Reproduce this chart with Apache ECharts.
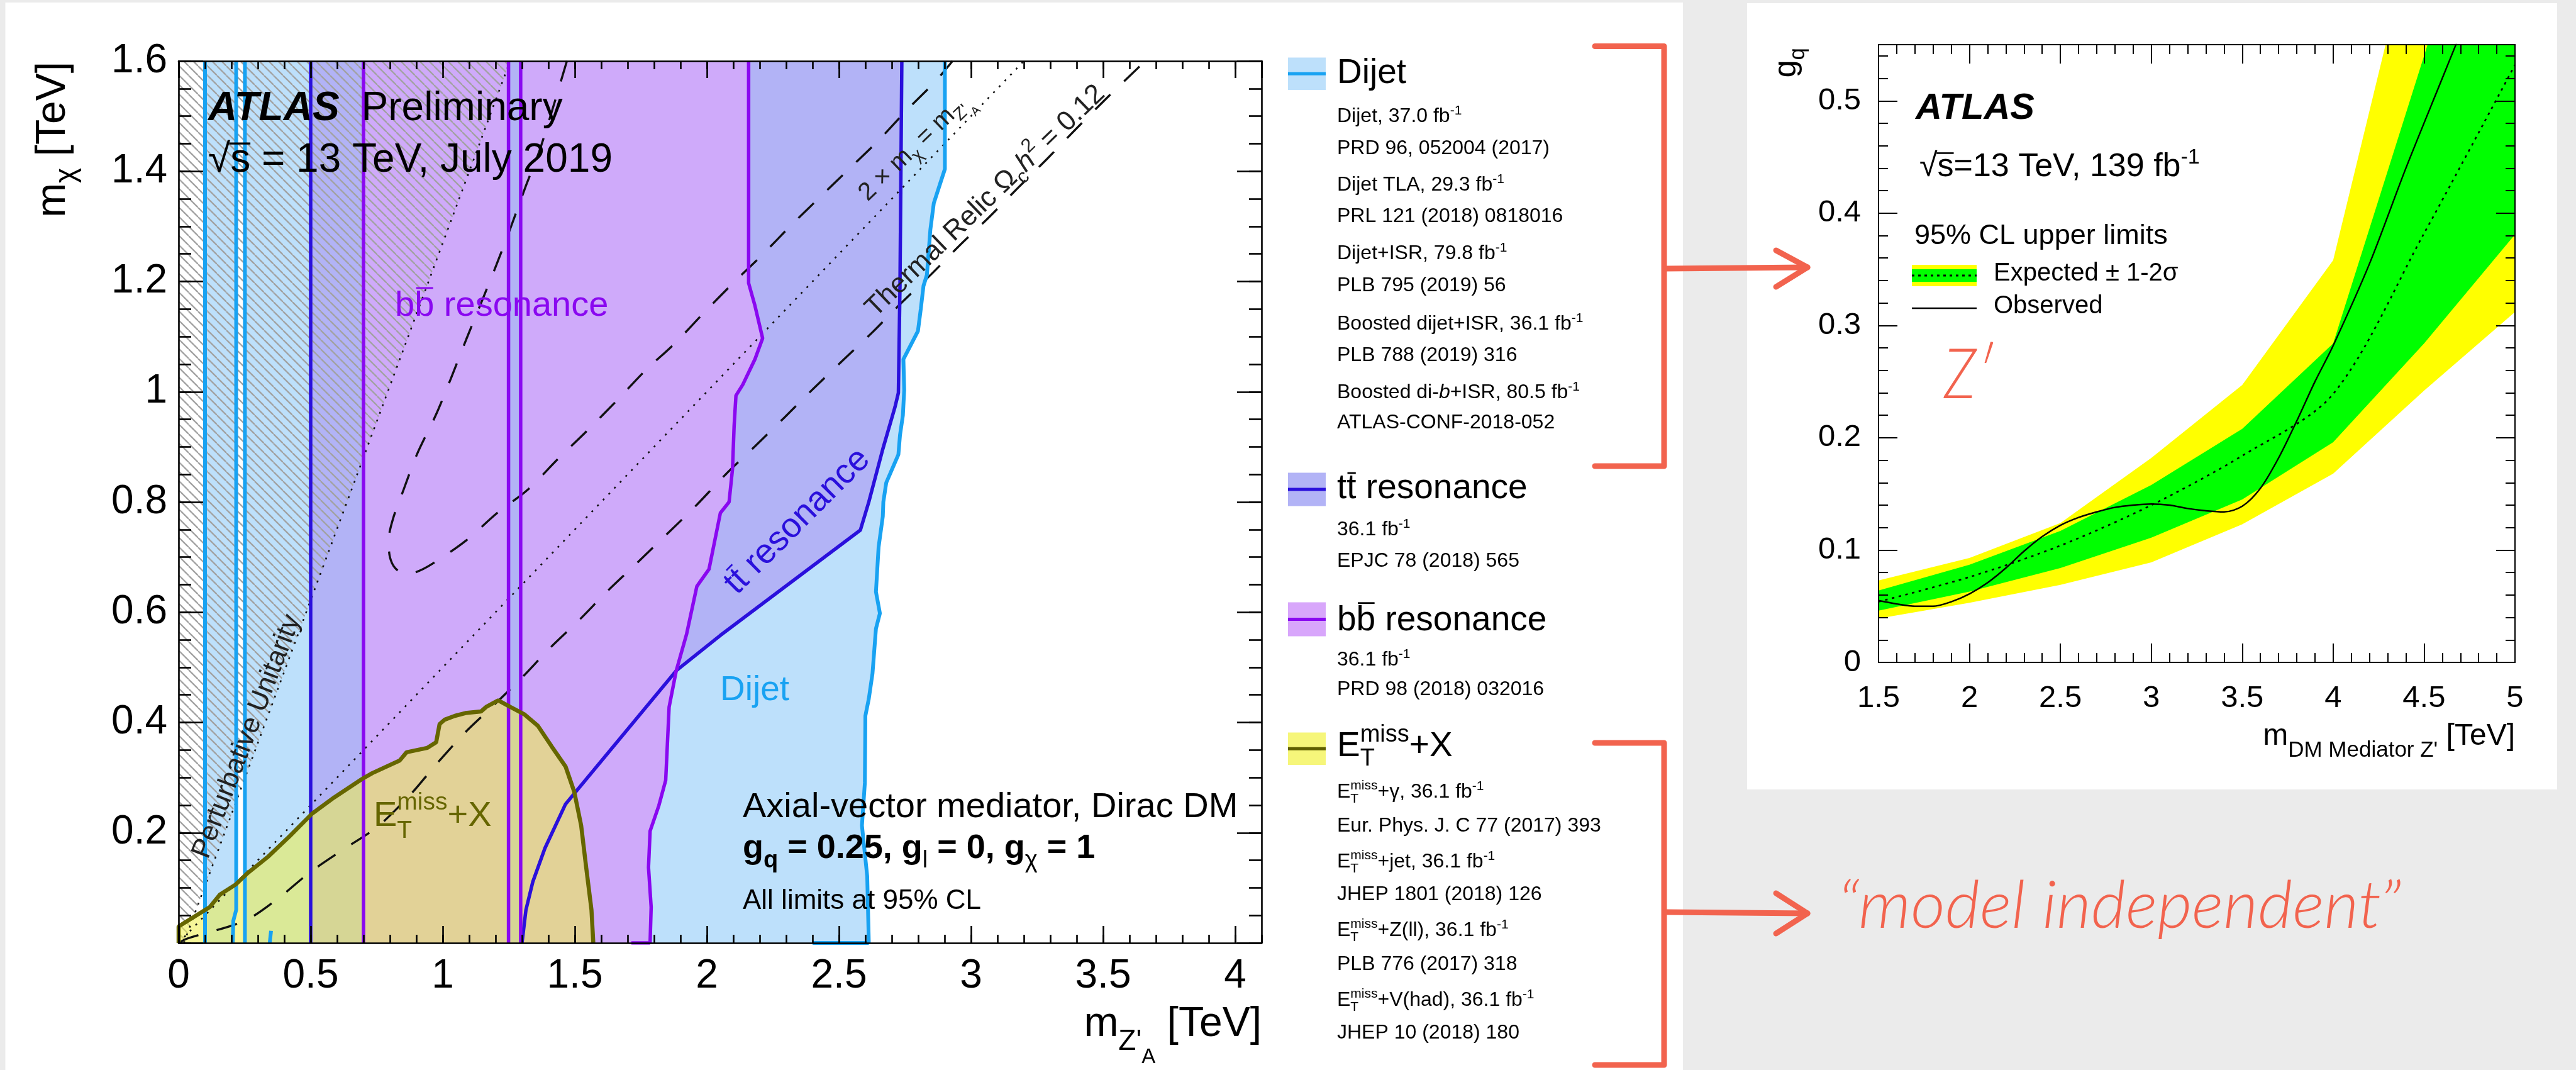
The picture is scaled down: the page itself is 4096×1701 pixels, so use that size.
<!DOCTYPE html>
<html>
<head>
<meta charset="utf-8">
<script src="https://cdn.jsdelivr.net/npm/echarts@6/dist/echarts.min.js"></script>
<style>
  html, body { margin: 0; padding: 0; background: #ebebeb; }
  #chart { width: 4096px; height: 1701px; }
</style>
</head>
<body>
<div id="chart"></div>
<script>
// ---------------------------------------------------------------
// Left panel: exclusion regions in the (m_Z'A, m_chi) plane
// ---------------------------------------------------------------
// Dijet: narrow low-mass band, a second edge, and the broad region's right boundary
const dijetLowBand = [[0.100, 0], [0.100, 1.6], [0.218, 1.6], [0.218, 0.060], [0.207, 0.040], [0.205, 0]];
const dijetLowEdges = [0.100, 0.251];
const dijetRightEdge = [[2.901, 1.600], [2.901, 1.404], [2.882, 1.376], [2.859, 1.342], [2.846, 1.294], [2.833, 1.212],
  [2.820, 1.192], [2.810, 1.151], [2.799, 1.110], [2.744, 1.059], [2.747, 1.003], [2.742, 0.957], [2.731, 0.921],
  [2.725, 0.886], [2.679, 0.835], [2.668, 0.800], [2.666, 0.774], [2.650, 0.718], [2.640, 0.637], [2.655, 0.598],
  [2.640, 0.570], [2.627, 0.489], [2.613, 0.443], [2.600, 0.412], [2.598, 0.290], [2.587, 0.213], [2.607, 0.121],
  [2.613, 0.000]];
const dijetStub = [[0.345, 0], [0.350, 0.022]];
const dijetFloor = [[2.40, 0], [2.613, 0]];

// ttbar resonance
const ttLeftEdge = 0.5;
const ttRightEdge = [[2.738, 1.600], [2.731, 1.192], [2.725, 0.998], [2.712, 0.972], [2.666, 0.896], [2.613, 0.800],
  [2.581, 0.749], [2.051, 0.558], [1.884, 0.494], [1.465, 0.252], [1.387, 0.172], [1.341, 0.111], [1.315, 0.060],
  [1.300, 0.000]];

// bbbar resonance (with a small non-excluded gap)
const bbEdges = [0.700, 1.249, 1.295];
const bbRightEdge = [[2.158, 1.600], [2.158, 1.197], [2.182, 1.156], [2.211, 1.097], [2.182, 1.059], [2.136, 1.013],
  [2.110, 0.993], [2.103, 0.937], [2.097, 0.860], [2.084, 0.800], [2.051, 0.780], [2.008, 0.678], [1.962, 0.647],
  [1.923, 0.560], [1.884, 0.494], [1.857, 0.428], [1.851, 0.366], [1.844, 0.295], [1.818, 0.249], [1.785, 0.203],
  [1.779, 0.137], [1.789, 0.065], [1.785, 0.000]];
const bbFloor = [[1.714, 0], [1.785, 0]];

// E_T^miss + X contour
const metContour = [[0, 0], [0, 0.030], [0.118, 0.065], [0.157, 0.088], [0.216, 0.106], [0.262, 0.127], [0.340, 0.157],
  [0.419, 0.193], [0.504, 0.234], [0.589, 0.264], [0.693, 0.297], [0.733, 0.308], [0.837, 0.331], [0.863, 0.346],
  [0.942, 0.354], [0.975, 0.364], [0.988, 0.397], [1.007, 0.405], [1.046, 0.412], [1.086, 0.417], [1.145, 0.420],
  [1.164, 0.428], [1.210, 0.440], [1.256, 0.428], [1.308, 0.415], [1.360, 0.394], [1.413, 0.356], [1.465, 0.320],
  [1.498, 0.274], [1.524, 0.213], [1.543, 0.137], [1.563, 0.060], [1.570, 0]];

// Perturbative unitarity limit and 2 x m_chi = m_Z'A
const unitarityLine = [[0.020, 0], [1.255, 1.6]];
const halfMassLine = [[0, 0], [3.2, 1.6]];

// Thermal relic Omega_c h^2 = 0.12 contours
const relicLower = [[0, 0], [0.033, 0.008], [0.249, 0.040], [0.375, 0.080], [0.497, 0.128], [0.625, 0.170],
  [0.756, 0.212], [0.883, 0.272], [0.968, 0.320], [1.083, 0.381], [1.177, 0.424], [1.295, 0.479], [1.406, 0.535],
  [1.517, 0.586], [1.625, 0.639], [1.737, 0.690], [1.847, 0.741], [1.952, 0.790], [2.071, 0.850], [2.182, 0.901],
  [2.293, 0.953], [2.404, 1.006], [2.515, 1.057], [2.627, 1.108], [2.738, 1.162], [2.849, 1.213], [2.956, 1.265],
  [3.069, 1.317], [3.176, 1.369], [3.287, 1.422], [3.398, 1.477], [3.510, 1.531], [3.627, 1.585], [3.660, 1.600]];
const relicUpper = [[1.470, 1.600], [1.371, 1.444], [1.312, 1.370], [1.258, 1.299], [1.203, 1.230], [1.146, 1.162],
  [1.089, 1.095], [1.030, 1.023], [0.974, 0.958], [0.902, 0.886], [0.850, 0.820], [0.812, 0.770], [0.795, 0.730],
  [0.800, 0.700], [0.820, 0.680], [0.855, 0.670], [0.900, 0.673], [0.961, 0.688], [1.088, 0.730], [1.206, 0.780],
  [1.321, 0.822], [1.436, 0.878], [1.546, 0.929], [1.661, 0.985], [1.766, 1.038], [1.877, 1.087], [1.988, 1.143],
  [2.101, 1.198], [2.211, 1.249], [2.319, 1.302], [2.428, 1.353], [2.538, 1.404], [2.650, 1.456], [2.757, 1.511],
  [2.865, 1.563], [2.930, 1.600]];

// ---------------------------------------------------------------
// Right panel: g_q upper limit vs mediator mass
// ---------------------------------------------------------------
const mediatorMass = [1.5, 2.0, 2.5, 3.0, 3.5, 4.0, 4.5, 5.0];
const expMinus2 = [0.039, 0.053, 0.069, 0.089, 0.123, 0.168, 0.242, 0.312];
const expMinus1 = [0.046, 0.063, 0.084, 0.111, 0.145, 0.196, 0.284, 0.381];
const expMedian = [0.054, 0.076, 0.104, 0.140, 0.184, 0.239, 0.382, 0.532];
const expPlus1 = [0.064, 0.087, 0.117, 0.158, 0.208, 0.284, 0.540, 0.800];
const expPlus2 = [0.073, 0.093, 0.124, 0.182, 0.247, 0.358, 0.691, 1.000];
const obsMass = [1.5, 1.6, 1.7, 1.8, 1.9, 2.0, 2.1, 2.2, 2.3, 2.4, 2.5, 2.6, 2.7, 2.8, 2.9, 3.0, 3.1, 3.2, 3.3, 3.4,
  3.5, 3.6, 3.7, 3.8, 3.9, 4.0, 4.2, 4.4, 4.6, 4.7];
const obsLimit = [0.055, 0.052, 0.050, 0.050, 0.054, 0.061, 0.071, 0.084, 0.099, 0.112, 0.122, 0.129, 0.134, 0.138,
  0.140, 0.141, 0.140, 0.137, 0.135, 0.134, 0.139, 0.155, 0.182, 0.215, 0.250, 0.282, 0.355, 0.440, 0.520, 0.560];

// ---------------------------------------------------------------
const FONT = '"Liberation Sans", Arial, sans-serif';
const HAND = 'Lato, "Open Sans", sans-serif';
const RED = '#f2634e';
const C = {
  dijetFill: '#bde0fb', dijetLine: '#18a2f2',
  ttFill: '#b2b3f6', ttLine: '#2a10dc',
  bbFill: '#cfaafa', bbLine: '#8a08f0',
  metFill: 'rgba(240,240,80,0.58)', metLine: '#666600'
};

const chart = echarts.init(document.getElementById('chart'), null, { renderer: 'canvas' });

// diagonal hatch used for the non-perturbative region
function hatchCanvas() {
  const s = 15, c = document.createElement('canvas');
  c.width = s; c.height = s;
  const g = c.getContext('2d');
  g.strokeStyle = '#a2a2a2'; g.lineWidth = 2.3;
  for (const k of [-1, 0, 1]) { g.beginPath(); g.moveTo(k * s, 0); g.lineTo(k * s + s, s); g.stroke(); }
  return c;
}

function area(points, fill, z) {
  return {
    type: 'custom', xAxisIndex: 0, yAxisIndex: 0, z, silent: true, data: [[0, 0]],
    renderItem: (params, api) => ({
      type: 'polygon',
      shape: { points: points.map(p => api.coord(p)) },
      style: { fill }
    })
  };
}
function curve(points, color, width, type, z, smooth) {
  return {
    type: 'line', xAxisIndex: 0, yAxisIndex: 0, data: points, symbol: 'none', showSymbol: false,
    z, silent: true, smooth: smooth || false, clip: true,
    lineStyle: { color, width, type: type || 'solid' }
  };
}
const vline = x => [[x, 0], [x, 1.6]];

// axes: four sides per frame, major and minor tick sets
function axis(o) {
  return {
    type: 'value', gridIndex: o.grid, position: o.pos, min: o.min, max: o.max, interval: o.step,
    z: 50, silent: true,
    axisLine: { show: !!o.line, onZero: false, lineStyle: { color: '#000', width: o.lw } },
    axisTick: { show: true, inside: true, length: o.len, lineStyle: { color: '#000', width: o.lw } },
    axisLabel: o.label ? Object.assign({
      show: true, color: '#000', fontFamily: FONT, hideOverlap: false
    }, o.label) : { show: false },
    splitLine: { show: false },
    minorTick: { show: false }
  };
}
const fmt = v => String(+v.toFixed(2));

const xAxes = [
  axis({ grid: 0, pos: 'bottom', min: 0, max: 4.1, step: 0.5, len: 27, lw: 2.6, line: 1,
    label: { fontSize: 64, margin: 21, formatter: fmt, showMaxLabel: false, showMinLabel: true } }),
  axis({ grid: 0, pos: 'bottom', min: 0, max: 4.1, step: 0.1, len: 13, lw: 2.6 }),
  axis({ grid: 0, pos: 'top', min: 0, max: 4.1, step: 0.5, len: 27, lw: 2.6, line: 1 }),
  axis({ grid: 0, pos: 'top', min: 0, max: 4.1, step: 0.1, len: 13, lw: 2.6 }),
  axis({ grid: 1, pos: 'bottom', min: 1.5, max: 5, step: 0.5, len: 30, lw: 2, line: 1,
    label: { fontSize: 49, margin: 33, formatter: fmt, showMaxLabel: true, showMinLabel: true } }),
  axis({ grid: 1, pos: 'bottom', min: 1.5, max: 5, step: 0.1, len: 15, lw: 2 }),
  axis({ grid: 1, pos: 'top', min: 1.5, max: 5, step: 0.5, len: 30, lw: 2, line: 1 }),
  axis({ grid: 1, pos: 'top', min: 1.5, max: 5, step: 0.1, len: 15, lw: 2 })
];
const yAxes = [
  axis({ grid: 0, pos: 'left', min: 0, max: 1.6, step: 0.2, len: 39, lw: 2.6, line: 1,
    label: { fontSize: 64, margin: 18, formatter: v => (v === 0 ? '' : fmt(v)), showMaxLabel: true } }),
  axis({ grid: 0, pos: 'left', min: 0, max: 1.6, step: 0.05, len: 20, lw: 2.6 }),
  axis({ grid: 0, pos: 'right', min: 0, max: 1.6, step: 0.2, len: 39, lw: 2.6, line: 1 }),
  axis({ grid: 0, pos: 'right', min: 0, max: 1.6, step: 0.05, len: 20, lw: 2.6 }),
  axis({ grid: 1, pos: 'left', min: 0, max: 0.55, step: 0.1, len: 30, lw: 2, line: 1,
    label: { fontSize: 49, margin: 28, formatter: fmt, showMaxLabel: false, showMinLabel: true } }),
  axis({ grid: 1, pos: 'left', min: 0, max: 0.55, step: 0.02, len: 15, lw: 2 }),
  axis({ grid: 1, pos: 'right', min: 0, max: 0.55, step: 0.1, len: 30, lw: 2, line: 1 }),
  axis({ grid: 1, pos: 'right', min: 0, max: 0.55, step: 0.02, len: 15, lw: 2 })
];

const dashed = [34, 30], dotted = [3, 10];
const pairs = (xs, ys) => xs.map((x, i) => [x, ys[i]]);

// band edge filled down to the axis; edges are painted from the outermost inwards
function bandEdge(values, color, z) {
  return { type: 'line', xAxisIndex: 4, yAxisIndex: 4, data: pairs(mediatorMass, values), symbol: 'none',
    lineStyle: { width: 0, opacity: 0 }, areaStyle: { color, opacity: 1, origin: 'start' }, z, silent: true, clip: true };
}

const series = [
  // filled exclusion regions
  area(dijetLowBand, C.dijetFill, 2),
  area([[dijetLowEdges[1], 0], [dijetLowEdges[1], 1.6]].concat(dijetRightEdge), C.dijetFill, 2),
  area([[ttLeftEdge, 0], [ttLeftEdge, 1.6]].concat(ttRightEdge), C.ttFill, 3),
  area([[bbEdges[0], 0], [bbEdges[0], 1.6], [bbEdges[1], 1.6], [bbEdges[1], 0]], C.bbFill, 4),
  area([[bbEdges[2], 0], [bbEdges[2], 1.6]].concat(bbRightEdge), C.bbFill, 4),
  area([[0, 0], unitarityLine[0], unitarityLine[1], [0, 1.6]], { image: hatchCanvas(), repeat: 'repeat' }, 5),
  area(metContour, C.metFill, 6),
  // reference lines
  curve(unitarityLine, '#111', 2.6, dotted, 7),
  curve(halfMassLine, '#111', 2.6, dotted, 7),
  curve(relicLower, '#111', 3.4, dashed, 7, 0.3),
  curve(relicUpper, '#111', 3.4, dashed, 7, 0.3),
  // contour outlines
  curve(vline(dijetLowEdges[0]), C.dijetLine, 6, 'solid', 8),
  curve(dijetLowBand.slice(2), C.dijetLine, 6, 'solid', 8),
  curve(vline(dijetLowEdges[1]), C.dijetLine, 6, 'solid', 8),
  curve(dijetRightEdge, C.dijetLine, 6, 'solid', 8),
  curve(dijetStub, C.dijetLine, 6, 'solid', 8),
  curve(dijetFloor, C.dijetLine, 6, 'solid', 8),
  curve(vline(ttLeftEdge), C.ttLine, 5.5, 'solid', 9),
  curve(ttRightEdge, C.ttLine, 5.5, 'solid', 9),
  curve(vline(bbEdges[0]), C.bbLine, 5.5, 'solid', 9),
  curve(vline(bbEdges[1]), C.bbLine, 5.5, 'solid', 9),
  curve(vline(bbEdges[2]), C.bbLine, 5.5, 'solid', 9),
  curve(bbRightEdge, C.bbLine, 5.5, 'solid', 9),
  curve(bbFloor, C.bbLine, 5.5, 'solid', 9),
  curve(metContour, C.metLine, 6.5, 'solid', 10),

  // right panel: +-2 sigma (yellow) and +-1 sigma (green) expected bands
  bandEdge(expPlus2, '#ffff00', 2),
  bandEdge(expPlus1, '#00ff00', 3),
  bandEdge(expMinus1, '#ffff00', 4),
  bandEdge(expMinus2, '#ffffff', 5),
  { type: 'line', xAxisIndex: 4, yAxisIndex: 4, data: pairs(mediatorMass, expMedian), symbol: 'none',
    smooth: 0.3, lineStyle: { color: '#000', width: 2.6, type: [4, 7] }, z: 6, silent: true },
  { type: 'line', xAxisIndex: 4, yAxisIndex: 4, data: pairs(obsMass, obsLimit), symbol: 'none',
    smooth: 0.3, lineStyle: { color: '#000', width: 2.4 }, z: 6, silent: true }
];

// ---------------------------------------------------------------
// text helpers: runs of pieces with sub/superscripts and overbars
// ---------------------------------------------------------------
const meas = document.createElement('canvas').getContext('2d');
const fontOf = p => (p.it ? 'italic ' : '') + (p.b ? 'bold ' : (p.w ? p.w + ' ' : '')) + p.s + 'px ' + (p.f || FONT);
function run(parts, x, base, anchor, color, z) {
  const ws = parts.map(p => { meas.font = fontOf(p); return meas.measureText(p.t).width; });
  let total = 0;
  parts.forEach((p, i) => { if (!p.stay) total += ws[i] + (p.gap || 0); });
  let cx = anchor === 'right' ? x - total : anchor === 'center' ? x - total / 2 : x;
  const els = [];
  parts.forEach((p, i) => {
    const col = p.c || color || '#000';
    const y = base + (p.dy || 0);
    els.push({ type: 'text', x: cx, y: y - 0.347 * p.s, z: z || 60, silent: true,
      style: { text: p.t, font: fontOf(p), fill: col, align: 'left', verticalAlign: 'middle' } });
    if (p.bar) {
      const by = y - p.bar * p.s;
      els.push({ type: 'line', z: z || 60, silent: true,
        shape: { x1: cx + (p.barL || 0.08) * ws[i], y1: by, x2: cx + (p.barR || 0.95) * ws[i], y2: by },
        style: { stroke: col, lineWidth: Math.max(1.6, p.s * 0.05) } });
    }
    if (!p.stay) cx += ws[i] + (p.gap || 0);
  });
  return els;
}
function rotated(parts, cx, cy, deg, color, anchor, baseOff) {
  return { type: 'group', x: cx, y: cy, rotation: deg * Math.PI / 180, silent: true,
    children: run(parts, 0, baseOff || 0, anchor || 'center', color, 60) };
}
function scaledText(str, font, x, base, width, color) {
  meas.font = font;
  const w = meas.measureText(str).width;
  const size = parseFloat(font.match(/(\d+(\.\d+)?)px/)[1]);
  return { type: 'group', x, y: base, scaleX: width / w, silent: true,
    children: [{ type: 'text', x: 0, y: -0.347 * size, z: 70,
      style: { text: str, font, fill: color, align: 'left', verticalAlign: 'middle' } }] };
}

const gfx = [];
// white panels on the grey page
gfx.push({ type: 'rect', z: -10, silent: true, shape: { x: 8.5, y: 4, width: 2667.5, height: 1697 }, style: { fill: '#fff' } });
gfx.push({ type: 'rect', z: -10, silent: true, shape: { x: 2778, y: 5, width: 1288, height: 1250 }, style: { fill: '#fff' } });

// ---- left panel labels ----
gfx.push(...run([{ t: 'ATLAS', s: 64, b: 1, it: 1, gap: 35 }, { t: 'Preliminary', s: 64 }], 331, 196, 'left'));
gfx.push(...run([{ t: '√', s: 64 }, { t: 's', s: 64, bar: 0.78, barL: -0.05, barR: 1.0 },
  { t: ' = 13 TeV, July 2019', s: 64 }], 331, 278, 'left'));
gfx.push(rotated([{ t: 'm', s: 66 }, { t: 'χ', s: 46, dy: 14 }, { t: ' [TeV]', s: 66 }], 108, 98, 90, '#000', 'right', 0));
gfx.push(...run([{ t: 'm', s: 66 }, { t: "Z'", s: 46, dy: 20 }, { t: 'A', s: 33, dy: 40 }, { t: ' [TeV]', s: 66 }],
  2006, 1652, 'right'));

gfx.push(...run([{ t: 'b', s: 56 }, { t: 'b', s: 56, bar: 0.86 }, { t: ' resonance', s: 56 }], 628, 506, 'left', C.bbLine));
gfx.push(...run([{ t: 'Dijet', s: 55 }], 1145, 1117, 'left', C.dijetLine));
gfx.push(...run([{ t: 'E', s: 56 }, { t: 'T', s: 39, dy: 18, stay: 1 }, { t: 'miss', s: 39, dy: -27 }, { t: '+X', s: 56 }],
  594, 1317, 'left', C.metLine));
gfx.push(...run([{ t: 'Axial-vector mediator, Dirac DM', s: 56 }], 1181, 1303, 'left'));
gfx.push(...run([{ t: 'g', s: 54, b: 1 }, { t: 'q', s: 38, b: 1, dy: 14 }, { t: ' = 0.25, g', s: 54, b: 1 },
  { t: 'l', s: 38, dy: 14 }, { t: ' = 0, g', s: 54, b: 1 }, { t: 'χ', s: 38, dy: 14 }, { t: ' = 1', s: 54, b: 1 }],
  1181, 1368, 'left'));
gfx.push(...run([{ t: 'All limits at 95% CL', s: 44 }], 1181, 1448, 'left'));

gfx.push(rotated([{ t: 'Perturbative Unitarity', s: 44 }], 393, 1171, 69, '#222', 'center', 15));
gfx.push(rotated([{ t: '2 × m', s: 40 }, { t: 'χ', s: 28, dy: 9 }, { t: ' = m', s: 40 }, { t: "Z'", s: 28, dy: 9 },
  { t: 'A', s: 20, dy: 20 }], 1455, 233, 44, '#222', 'center', 14));
gfx.push(rotated([{ t: 'Thermal Relic Ω', s: 44 }, { t: 'c', s: 31, dy: 10 }, { t: 'h', s: 44, it: 1 },
  { t: '2', s: 31, dy: -20 }, { t: ' = 0.12', s: 44 }], 1567, 320, 44, '#222', 'center', 15));
gfx.push(rotated([{ t: 't', s: 55 }, { t: 't', s: 55, bar: 0.8 }, { t: ' resonance', s: 55 }], 1268, 829, 45, C.ttLine, 'center', 19));

// ---- legend column ----
const legX = 2126, swX = 2048, swW = 60;
function swatch(y0, y1, fill, line) {
  gfx.push({ type: 'rect', z: 40, silent: true, shape: { x: swX, y: y0, width: swW, height: y1 - y0 }, style: { fill } });
  const m = (y0 + y1) / 2;
  gfx.push({ type: 'line', z: 41, silent: true, shape: { x1: swX, y1: m, x2: swX + swW, y2: m }, style: { stroke: line, lineWidth: 5 } });
}
const sub = 32, sup = 21;
const fbLine = (txt) => [{ t: txt + ' fb', s: sub }, { t: '-1', s: sup, dy: -13 }];
const metPre = [{ t: 'E', s: sub }, { t: 'T', s: sup, dy: 7, stay: 1 }, { t: 'miss', s: sup, dy: -14 }];

swatch(91.5, 143, C.dijetFill, C.dijetLine);
gfx.push(...run([{ t: 'Dijet', s: 55 }], legX, 136, 'left'));
const dijetRefs = [
  fbLine('Dijet, 37.0'), [{ t: 'PRD 96, 052004 (2017)', s: sub }],
  fbLine('Dijet TLA, 29.3'), [{ t: 'PRL 121 (2018) 0818016', s: sub }],
  fbLine('Dijet+ISR, 79.8'), [{ t: 'PLB 795 (2019) 56', s: sub }],
  fbLine('Boosted dijet+ISR, 36.1'), [{ t: 'PLB 788 (2019) 316', s: sub }],
  [{ t: 'Boosted di-', s: sub }, { t: 'b', s: sub, it: 1 }, { t: '+ISR, 80.5 fb', s: sub }, { t: '-1', s: sup, dy: -13 }],
  [{ t: 'ATLAS-CONF-2018-052', s: sub }]
];
const dijetBase = [196.5, 247, 305, 355.6, 414.6, 465, 526.6, 576, 635, 683];
dijetRefs.forEach((p, i) => gfx.push(...run(p, legX, dijetBase[i], 'left')));

swatch(751.5, 804.5, C.ttFill, C.ttLine);
gfx.push(...run([{ t: 't', s: 55 }, { t: 't', s: 55, bar: 0.8 }, { t: ' resonance', s: 55 }], legX, 796, 'left'));
gfx.push(...run(fbLine('36.1'), legX, 853.5, 'left'));
gfx.push(...run([{ t: 'EPJC 78 (2018) 565', s: sub }], legX, 903.5, 'left'));

swatch(957.6, 1011.5, '#d8a6fb', C.bbLine);
gfx.push(...run([{ t: 'b', s: 55 }, { t: 'b', s: 55, bar: 0.86 }, { t: ' resonance', s: 55 }], legX, 1006, 'left'));
gfx.push(...run(fbLine('36.1'), legX, 1060.5, 'left'));
gfx.push(...run([{ t: 'PRD 98 (2018) 032016', s: sub }], legX, 1107.5, 'left'));

swatch(1164.5, 1216, '#f6f67a', '#5e5e00');
gfx.push(...run([{ t: 'E', s: 55 }, { t: 'T', s: 38, dy: 14, stay: 1 }, { t: 'miss', s: 38, dy: -24 }, { t: '+X', s: 55 }], legX, 1206, 'left'));
const metRefs = [
  metPre.concat([{ t: '+γ, 36.1 fb', s: sub }, { t: '-1', s: sup, dy: -13 }]),
  [{ t: 'Eur. Phys. J. C 77 (2017) 393', s: sub }],
  metPre.concat([{ t: '+jet, 36.1 fb', s: sub }, { t: '-1', s: sup, dy: -13 }]),
  [{ t: 'JHEP 1801 (2018) 126', s: sub }],
  metPre.concat([{ t: '+Z(ll), 36.1 fb', s: sub }, { t: '-1', s: sup, dy: -13 }]),
  [{ t: 'PLB 776 (2017) 318', s: sub }],
  metPre.concat([{ t: '+V(had), 36.1 fb', s: sub }, { t: '-1', s: sup, dy: -13 }]),
  [{ t: 'JHEP 10 (2018) 180', s: sub }]
];
const metBase = [1270.5, 1324.5, 1381.5, 1433.5, 1490.5, 1544.5, 1601.5, 1653.5];
metRefs.forEach((p, i) => gfx.push(...run(p, legX, metBase[i], 'left')));

// ---- right panel labels ----
gfx.push(...run([{ t: 'ATLAS', s: 58, b: 1, it: 1 }], 3046, 193, 'left'));
gfx.push(...run([{ t: '√', s: 52 }, { t: 's', s: 52, bar: 0.78, barL: -0.05, barR: 1.0 }, { t: '=13 TeV, 139 fb', s: 52 },
  { t: '-1', s: 34, dy: -22 }], 3052, 284, 'left'));
gfx.push(...run([{ t: '95% CL upper limits', s: 45 }], 3044, 391, 'left'));
gfx.push({ type: 'rect', z: 40, silent: true, shape: { x: 3040, y: 421, width: 103, height: 34 }, style: { fill: '#ffff00' } });
gfx.push({ type: 'rect', z: 41, silent: true, shape: { x: 3040, y: 428, width: 103, height: 20 }, style: { fill: '#00ff00' } });
gfx.push({ type: 'line', z: 42, silent: true, shape: { x1: 3040, y1: 438, x2: 3143, y2: 438 }, style: { stroke: '#000', lineWidth: 3, lineDash: [4, 6] } });
gfx.push(...run([{ t: 'Expected ± 1-2σ', s: 40 }], 3170, 449, 'left'));
gfx.push({ type: 'line', z: 42, silent: true, shape: { x1: 3040, y1: 490, x2: 3143, y2: 490 }, style: { stroke: '#000', lineWidth: 2.4 } });
gfx.push(...run([{ t: 'Observed', s: 40 }], 3170, 501, 'left'));
gfx.push(rotated([{ t: 'g', s: 50 }, { t: 'q', s: 35, dy: 12 }], 2859, 76, 90, '#000', 'right', 0));
gfx.push(...run([{ t: 'm', s: 48 }, { t: "DM Mediator Z'", s: 35, dy: 18 }, { t: ' [TeV]', s: 48 }], 3999, 1187, 'right'));

// ---- hand-drawn annotations ----
const redLine = pts => ({ type: 'polyline', z: 80, silent: true, shape: { points: pts },
  style: { stroke: RED, lineWidth: 9, fill: null, lineJoin: 'round', lineCap: 'round' } });
gfx.push(redLine([[2536, 73.5], [2646, 73.5], [2646, 741], [2536, 741]]));
gfx.push(redLine([[2649, 427], [2874, 425]]));
gfx.push(redLine([[2824, 398], [2874, 425], [2824, 456]]));
gfx.push(redLine([[2536, 1181], [2646, 1181], [2646, 1693], [2536, 1693]]));
gfx.push(redLine([[2649, 1450], [2874, 1452]]));
gfx.push(redLine([[2824, 1420], [2874, 1452], [2824, 1484]]));
gfx.push(scaledText('“model independent”', 'italic 300 104px ' + HAND, 2922, 1478, 896, RED));
gfx.push(scaledText('Z′', 'italic 300 110px ' + HAND, 3091, 636, 78, RED));

chart.setOption({
  animation: false,
  backgroundColor: '#ebebeb',
  grid: [
    { left: 284, top: 97, width: 1722, height: 1402, containLabel: false, outerBoundsMode: 'none' },
    { left: 2987, top: 71, width: 1012, height: 982, containLabel: false, outerBoundsMode: 'none' }
  ],
  xAxis: xAxes,
  yAxis: yAxes,
  series,
  graphic: { elements: gfx }
});
</script>
</body>
</html>
